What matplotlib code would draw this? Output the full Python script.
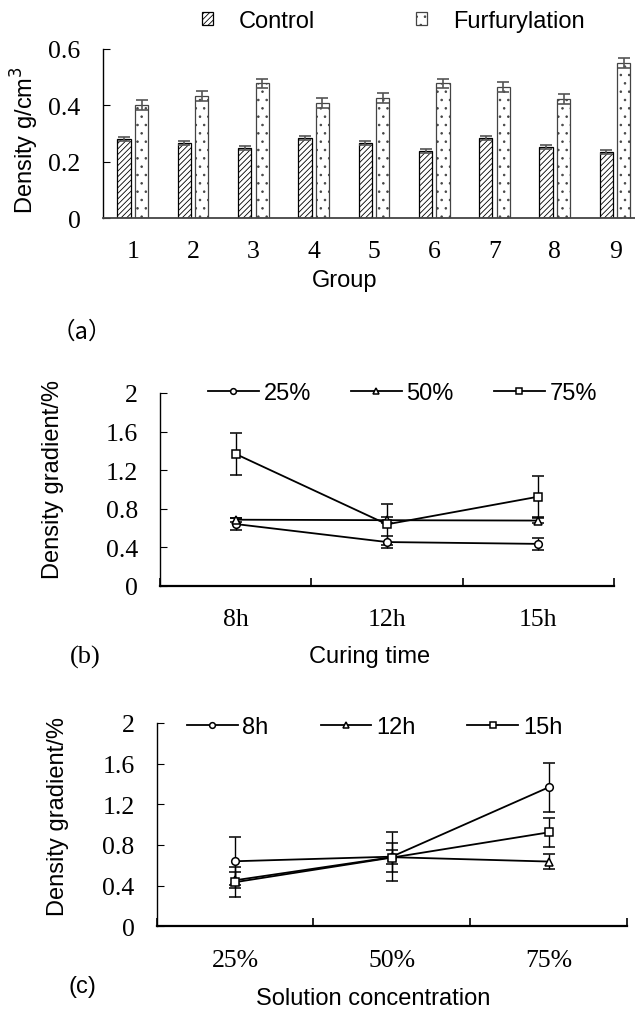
import numpy as np
import matplotlib
matplotlib.use('Agg')
import matplotlib.pyplot as plt

plt.rcParams['font.family'] = 'Liberation Sans'
plt.rcParams['hatch.linewidth'] = 0.6

# (a) density per group
groups = ['1', '2', '3', '4', '5', '6', '7', '8', '9']
control = [0.279, 0.267, 0.249, 0.283, 0.266, 0.237, 0.285, 0.251, 0.233]
control_err = [0.007, 0.007, 0.007, 0.007, 0.007, 0.007, 0.007, 0.007, 0.007]
furf = [0.402, 0.434, 0.479, 0.409, 0.427, 0.478, 0.466, 0.422, 0.550]
furf_err = [0.018, 0.018, 0.016, 0.017, 0.017, 0.017, 0.017, 0.017, 0.017]

# (b) density gradient vs curing time
times = ['8h', '12h', '15h']
b_series = ['25%', '50%', '75%']
b_vals = [[0.640, 0.453, 0.434],
          [0.685, 0.680, 0.676],
          [1.367, 0.637, 0.924]]
b_errs = [[0.062, 0.066, 0.065],
          [0.020, 0.030, 0.030],
          [0.213, 0.214, 0.215]]

# (c) density gradient vs solution concentration
concs = ['25%', '50%', '75%']
c_series = ['8h', '12h', '15h']
c_vals = [[0.640, 0.685, 1.367],
          [0.453, 0.680, 0.637],
          [0.434, 0.676, 0.924]]
c_errs = [[0.236, 0.240, 0.240],
          [0.080, 0.070, 0.075],
          [0.145, 0.145, 0.146]]

markers = ['o', '^', 's']

W, H = 635, 1012
fig = plt.figure(figsize=(W / 100, H / 100), dpi=100)


def box(l, t, r, b):
    return [l / W, 1 - b / H, (r - l) / W, (b - t) / H]


def fpos(px, py):
    return (px / W, 1 - py / H)


serif = 'Liberation Serif'
tick_fs = 18.5
lab_fs = 17

# ---------- (a)
ax = fig.add_axes(box(102.7, 50, 635, 219))
x = np.arange(len(groups))
ax.bar(x - 0.145, control, 0.22, yerr=control_err, color='white', edgecolor='black',
       linewidth=0.9, hatch='//////', label='Control',
       error_kw=dict(ecolor='#555555', elinewidth=1.2, capsize=4.5, capthick=1.2))
ax.bar(x + 0.145, furf, 0.22, yerr=furf_err, color='white', edgecolor='#444444',
       linewidth=0.9, hatch='..', label='Furfurylation',
       error_kw=dict(ecolor='#555555', elinewidth=1.2, capsize=4.5, capthick=1.2))
ax.set_xlim(-0.5, 8.33)
ax.set_ylim(0, 0.6)
ax.set_yticks([0, 0.2, 0.4, 0.6])
ax.set_yticklabels(['0', '0.2', '0.4', '0.6'], family=serif, fontsize=tick_fs)
ax.set_xticks(x)
ax.set_xticklabels(groups, family=serif, fontsize=tick_fs)
ax.tick_params(axis='x', length=0, pad=16)
ax.tick_params(axis='y', direction='in', length=5, pad=16)
for s in ['top', 'right']:
    ax.spines[s].set_visible(False)
ax.spines['bottom'].set_color('#444444')
ax.spines['bottom'].set_linewidth(1.3)
ax.spines['left'].set_linewidth(1.0)
ax.set_xlabel('Group', fontsize=lab_fs, va='center')
ax.xaxis.set_label_coords(*fpos(345, 281), transform=fig.transFigure)
ax.set_ylabel('Density g/cm$^3$', fontsize=lab_fs, va='center')
ax.yaxis.set_label_coords(*fpos(25, 140), transform=fig.transFigure)
fig.legend(loc='center left', bbox_to_anchor=fpos(202, 22), ncol=2,
           frameon=False, fontsize=lab_fs, handlelength=0.45, handleheight=0.45,
           handletextpad=1.1, columnspacing=4.3, borderpad=0, borderaxespad=0)


def line_panel(rect, cats, series, vals, errs, xlabel, leg_xy, colsp):
    ax = fig.add_axes(rect)
    xx = np.arange(len(cats))
    handles = []
    for name, v, e, m in zip(series, vals, errs, markers):
        cont = ax.errorbar(xx, v, yerr=e, color='black', lw=1.3, marker=m, ms=5.5,
                           mfc='white', mec='black', mew=1.1, elinewidth=1.0,
                           capsize=4.5, capthick=1.0, label=name)
        handles.append(cont[0])
    ax.set_xlim(-0.5, len(cats) - 0.5)
    ax.set_ylim(0, 2)
    ax.set_yticks([0, 0.4, 0.8, 1.2, 1.6, 2])
    ax.set_yticklabels(['0', '0.4', '0.8', '1.2', '1.6', '2'], family=serif,
                       fontsize=tick_fs)
    ax.set_xticks(np.arange(len(cats) + 1) - 0.5)
    ax.set_xticklabels([])
    ax.set_xticks(xx, minor=True)
    ax.set_xticklabels(cats, minor=True, family=serif, fontsize=tick_fs)
    ax.tick_params(axis='x', which='major', direction='in', length=6, width=1.2)
    ax.tick_params(axis='x', which='minor', length=0, pad=16)
    ax.tick_params(axis='y', direction='in', length=5, pad=16)
    for s in ['top', 'right']:
        ax.spines[s].set_visible(False)
    ax.spines['bottom'].set_linewidth(1.6)
    ax.spines['left'].set_linewidth(1.0)
    ax.set_xlabel(xlabel, fontsize=lab_fs, va='center')
    ax.set_ylabel('Density gradient/%', fontsize=lab_fs, va='center')
    ax.legend(handles, series, loc='center left', bbox_to_anchor=fpos(*leg_xy),
              bbox_transform=fig.transFigure, ncol=3, frameon=False, fontsize=lab_fs,
              handlelength=2.15, handletextpad=0.2, columnspacing=colsp,
              markerscale=0.75, borderpad=0, borderaxespad=0)
    return ax


# ---------- (b)
axb = line_panel(box(160, 394, 614, 586.7), times, b_series, b_vals, b_errs,
                 'Curing time', (208, 394), 1.7)
axb.xaxis.set_label_coords(*fpos(370, 657), transform=fig.transFigure)
axb.yaxis.set_label_coords(*fpos(53, 480), transform=fig.transFigure)

# ---------- (c)
axc = line_panel(box(156.7, 724, 627, 927.3), concs, c_series, c_vals, c_errs,
                 'Solution concentration', (187, 728), 2.2)
axc.xaxis.set_label_coords(*fpos(373, 999), transform=fig.transFigure)
axc.yaxis.set_label_coords(*fpos(58, 817), transform=fig.transFigure)

# panel tags
fig.text(*fpos(82, 332), '（a）', fontsize=17, ha='center', va='center',
         family=['Noto Sans CJK SC', 'DejaVu Sans'])
fig.text(*fpos(85, 657), '(b)', fontsize=19, ha='center', va='center', family=serif)
fig.text(*fpos(82, 987), '(c)', fontsize=17, ha='center', va='center')

fig.savefig('out.png', dpi=100)
